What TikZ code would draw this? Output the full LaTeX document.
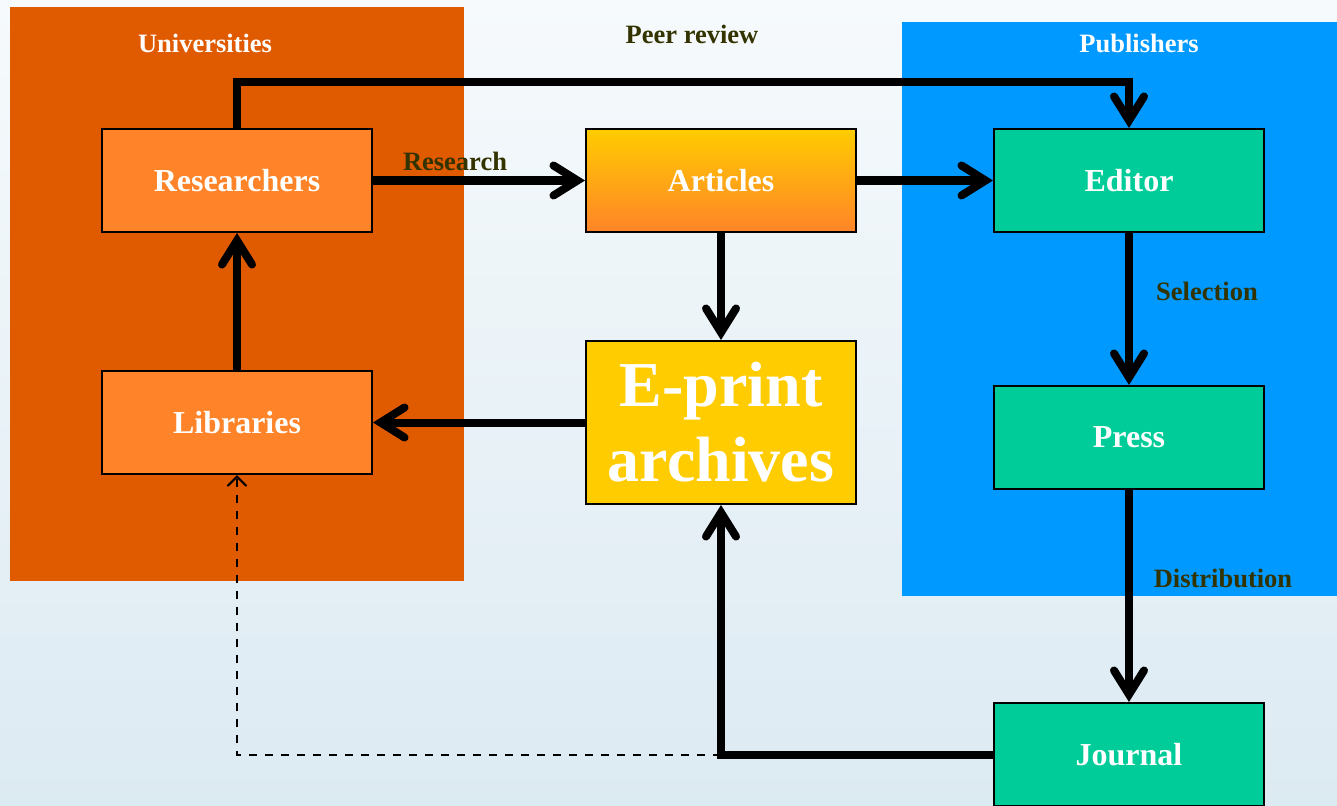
\documentclass[tikz,border=0pt]{standalone}
\usepackage{fontspec}
\setmainfont{Liberation Serif}
\usetikzlibrary{arrows.meta,calc}
\definecolor{bgtop}{RGB}{246,250,252}
\definecolor{bgbot}{RGB}{220,234,242}
\definecolor{univ}{RGB}{224,90,0}
\definecolor{publ}{RGB}{0,153,255}
\definecolor{orng}{RGB}{255,132,41}
\definecolor{gold}{RGB}{255,204,0}
\definecolor{tealc}{RGB}{0,204,153}
\definecolor{olive}{RGB}{51,51,0}
\begin{document}
\begin{tikzpicture}[x=1pt,y=-1pt,
 box/.style={draw=black,line width=2pt,minimum width=270pt,minimum height=103pt,text=white,font=\fontsize{32}{36}\selectfont\bfseries,inner sep=0pt},
 lab/.style={text=olive,font=\fontsize{26.5}{30}\selectfont\bfseries,inner sep=0pt},
 grp/.style={text=white,font=\fontsize{26.5}{30}\selectfont\bfseries,inner sep=0pt},
 arr/.style={line width=8pt,-{Straight Barb[length=24pt,width=30pt,line cap=round]}},
 darr/.style={line width=2.2pt,dash pattern=on 8pt off 8pt,-{Straight Barb[length=9pt,width=18pt,line cap=round]}}]
\useasboundingbox (0,0) rectangle (1337,805);
\shade[top color=bgtop,bottom color=bgbot] (0,0) rectangle (1337,805);
% groups
\fill[univ] (10,7) rectangle (464,581);
\fill[publ] (902,22) rectangle (1337,596);
\node[grp] (gu) at (205,43) {Universities};
\node[grp] (gp) at (1139,43) {Publishers};
\node[lab] (lpeer) at (692,34) {Peer review};
% nodes
\node[box,fill=orng] (res) at (237,180.5) {Researchers};
\node[box,fill=orng] (lib) at (237,422.5) {Libraries};
\node[box,top color=gold,bottom color=orng] (art) at (721,180.5) {Articles};
\node[box,fill=gold,minimum height=163pt,align=center,font=\fontsize{64}{75}\selectfont\bfseries] (epr) at (721,422.5) {E-print\\archives};
\node[box,fill=tealc] (edi) at (1129,180.5) {Editor};
\node[box,fill=tealc] (pre) at (1129,437.5) {Press};
\node[box,fill=tealc] (jou) at (1129,754.5) {Journal};
% labels
\node[lab] (lres) at (455,161) {Research};
\node[lab] (lsel) at (1207,291) {Selection};
\node[lab] (ldis) at (1223,578) {Distribution};
% connectors
\coordinate (topc) at (1129,82);
\coordinate (dj) at (721,755);
\draw[darr] (dj) -| (lib.south);
\draw[arr] (res.north) |- (topc) -- (edi.north);
\draw[arr] (res.east) -- (art.west);
\draw[arr] (art.east) -- (edi.west);
\draw[arr] (art.south) -- (epr.north);
\draw[arr] (epr.west) -- (lib.east);
\draw[arr] (lib.north) -- (res.south);
\draw[arr] (edi.south) -- (pre.north);
\draw[arr] (pre.south) -- (jou.north);
\draw[arr] (jou.west) -| (epr.south);
\end{tikzpicture}
\end{document}
